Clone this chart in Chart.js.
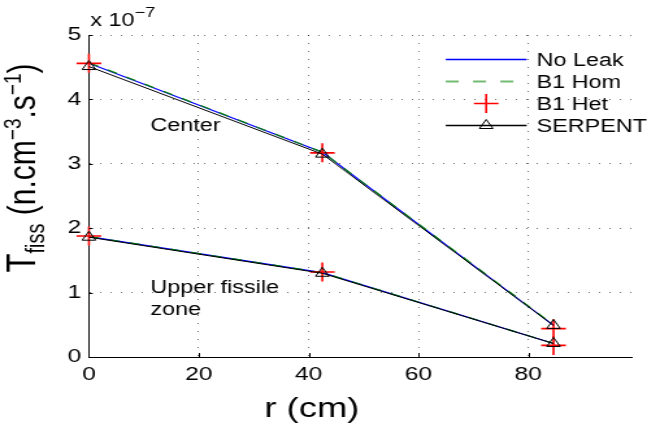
<!DOCTYPE html>
<html>
<head>
<meta charset="utf-8">
<script src="https://cdn.jsdelivr.net/npm/chart.js@4.4.1/dist/chart.umd.min.js"></script>
<style>
  html, body { margin: 0; padding: 0; background: #fff; overflow: hidden; }
  /* the reference is stretched sideways, so the canvas is drawn narrower and widened by css */
  #fissChart { display: block; width: 647px !important; height: 424px !important; }
</style>
</head>
<body>
<canvas id="fissChart" width="498" height="424"></canvas>
<script>
// radial position (cm)
const radius = [0, 42.5, 84.6];
// fission rate, in units of 1e-7 n.cm^-3.s^-1
const noLeakCenter = [4.56, 3.18, 0.49];
const noLeakUpper = [1.87, 1.31, 0.21];
const b1HomCenter = [4.57, 3.18, 0.50];
const b1HomUpper = [1.87, 1.31, 0.21];
const b1HetCenter = [4.56, 3.17, 0.44];
const b1HetUpper = [1.88, 1.32, 0.18];
const serpentCenter = [4.51, 3.15, 0.49];
const serpentUpper = [1.86, 1.30, 0.21];
const xTicks = [0, 20, 40, 60, 80];
const yTicks = [0, 1, 2, 3, 4, 5];
const seriesNames = ['No Leak', 'B1 Hom', 'B1 Het', 'SERPENT'];

const SX = 1.3; // horizontal stretch of the reference
const FONT = '"Liberation Sans", Arial, sans-serif';

function pts(ys) {
  return ys.map((y, i) => ({ x: radius[i], y: y }));
}

const styles = [
  { borderColor: '#0000ff', borderWidth: 1.2, pointRadius: 0, order: 4 },
  { borderColor: '#008000', borderWidth: 1.2, borderDash: [8, 8], pointRadius: 0, order: 3 },
  { borderColor: '#ff0000', borderWidth: 1.6, showLine: false, pointStyle: 'cross', pointRadius: 9.5, order: 2 },
  { borderColor: '#000000', borderWidth: 1, pointStyle: 'triangle', pointRadius: 6,
    pointBackgroundColor: 'rgba(0,0,0,0)', order: 1 }
];
const groups = [
  [noLeakCenter, noLeakUpper],
  [b1HomCenter, b1HomUpper],
  [b1HetCenter, b1HetUpper],
  [serpentCenter, serpentUpper]
];

const datasets = [];
groups.forEach((g, i) => {
  g.forEach(ys => {
    datasets.push(Object.assign({
      label: seriesNames[i],
      data: pts(ys),
      fill: false,
      tension: 0,
      clip: false,
      pointHoverRadius: 0
    }, styles[i]));
  });
});

function drawMarker(ctx, style, x, y) {
  if (!style.pointStyle) return;
  ctx.save();
  ctx.strokeStyle = style.borderColor;
  ctx.lineWidth = style.borderWidth;
  ctx.beginPath();
  const r = style.pointRadius;
  if (style.pointStyle === 'cross') {
    ctx.moveTo(x - r, y); ctx.lineTo(x + r, y);
    ctx.moveTo(x, y - r); ctx.lineTo(x, y + r);
  } else if (style.pointStyle === 'triangle') {
    ctx.moveTo(x, y - r);
    ctx.lineTo(x + r * Math.sin(2 * Math.PI / 3), y - r * Math.cos(2 * Math.PI / 3));
    ctx.lineTo(x + r * Math.sin(4 * Math.PI / 3), y - r * Math.cos(4 * Math.PI / 3));
    ctx.closePath();
  }
  ctx.stroke();
  ctx.restore();
}

// draw text pieces in a row, each with its own size and vertical shift
function drawPieces(ctx, pieces, x, y, align) {
  let total = 0;
  pieces.forEach(p => { ctx.font = p.size + 'px ' + FONT; total += ctx.measureText(p.text).width; });
  let cx = align === 'center' ? x - total / 2 : x;
  pieces.forEach(p => {
    ctx.font = p.size + 'px ' + FONT;
    ctx.fillText(p.text, cx, y + (p.dy || 0));
    cx += ctx.measureText(p.text).width;
  });
}

const decorPlugin = {
  id: 'decor',
  afterDraw(chart) {
    const ctx = chart.ctx;
    const xs = chart.scales.x, ys = chart.scales.y;
    const area = chart.chartArea;
    ctx.save();
    ctx.fillStyle = '#000';
    ctx.textBaseline = 'alphabetic';
    ctx.textAlign = 'left';

    // small inward tick marks
    ctx.strokeStyle = '#000';
    ctx.lineWidth = 1;
    ctx.beginPath();
    xTicks.forEach(v => {
      const px = Math.round(xs.getPixelForValue(v)) + 0.5;
      ctx.moveTo(px, area.bottom); ctx.lineTo(px, area.bottom - 4);
    });
    yTicks.forEach(v => {
      const py = Math.round(ys.getPixelForValue(v)) + 0.5;
      ctx.moveTo(area.left, py); ctx.lineTo(area.left + 3, py);
    });
    ctx.stroke();

    // exponent above the y axis
    drawPieces(ctx, [
      { text: 'x 10', size: 18 },
      { text: '\u22127', size: 14, dy: -9 }
    ], area.left + 1, 26, 'left');

    // zone annotations
    ctx.font = '18px ' + FONT;
    const ax = xs.getPixelForValue(11.2);
    ctx.fillText('Center', ax, ys.getPixelForValue(3.51));
    ctx.fillText('Upper fissile', ax, ys.getPixelForValue(0.99));
    ctx.fillText('zone', ax, ys.getPixelForValue(0.65));

    // legend
    const lx0 = 446 / SX, lx1 = 527 / SX, tx = 537 / SX;
    styles.forEach((s, i) => {
      const ly = 59 + i * 22;
      ctx.save();
      if (s.showLine !== false) {
        ctx.strokeStyle = s.borderColor;
        ctx.lineWidth = i === 1 ? 2 : 1.4;
        ctx.globalAlpha = i === 1 ? 0.55 : 1;
        ctx.setLineDash(i === 1 ? [10, 11] : []);
        ctx.beginPath();
        ctx.moveTo(lx0, ly + 0.5); ctx.lineTo(lx1, ly + 0.5);
        ctx.stroke();
      }
      ctx.restore();
      drawMarker(ctx, s, (lx0 + lx1) / 2, ly + 0.5);
      ctx.font = '18px ' + FONT;
      ctx.fillText(seriesNames[i], tx, ly + 7);
    });

    // x axis title
    ctx.font = '28px ' + FONT;
    ctx.textAlign = 'center';
    ctx.fillText('r (cm)', 312 / SX, 417);
    ctx.textAlign = 'left';

    // y axis title, rotated
    ctx.save();
    ctx.translate(35 / SX, 168);
    ctx.rotate(-Math.PI / 2);
    drawPieces(ctx, [
      { text: 'T', size: 31 },
      { text: 'fiss', size: 20, dy: 7 },
      { text: ' (n.cm', size: 30 },
      { text: '\u22123', size: 19, dy: -11 },
      { text: '.s', size: 30 },
      { text: '\u22121', size: 19, dy: -11 },
      { text: ')', size: 30 }
    ], 0, 0, 'center');
    ctx.restore();

    ctx.restore();
  }
};

const ctx = document.getElementById('fissChart').getContext('2d');
const fissChart = new Chart(ctx, {
  type: 'line',
  data: { datasets: datasets },
  options: {
    responsive: false,
    animation: false,
    devicePixelRatio: 1,
    layout: { padding: { top: 35, right: 0, left: 0, bottom: 0 } },
    plugins: { legend: { display: false }, tooltip: { enabled: false } },
    scales: {
      x: {
        type: 'linear',
        min: 0,
        max: 99,
        afterBuildTicks: s => { s.ticks = xTicks.map(v => ({ value: v })); },
        afterFit: s => { s.height = 67; s.paddingLeft = 0; s.paddingRight = 0; },
        grid: { color: 'rgba(0,0,0,0.55)', lineWidth: 1, drawTicks: false },
        border: { display: true, color: '#000', width: 1, dash: [1, 7] },
        ticks: { color: '#000', font: { size: 19, family: FONT }, padding: 6, maxRotation: 0 }
      },
      y: {
        type: 'linear',
        min: 0,
        max: 5,
        afterBuildTicks: s => { s.ticks = yTicks.map(v => ({ value: v })); },
        afterFit: s => { s.width = 89 / SX; s.paddingTop = 0; s.paddingBottom = 0; },
        grid: { color: 'rgba(0,0,0,0.55)', lineWidth: 1, drawTicks: false },
        border: { display: true, color: '#000', width: 1, dash: [1, 7] },
        ticks: { color: '#000', font: { size: 19, family: FONT }, padding: 6 }
      }
    }
  },
  plugins: [decorPlugin]
});
</script>
</body>
</html>
